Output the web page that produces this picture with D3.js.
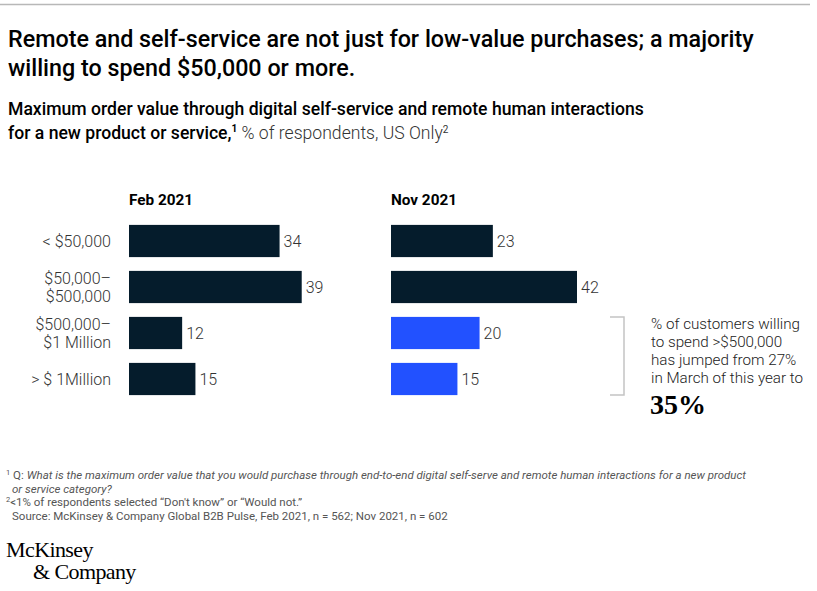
<!DOCTYPE html>
<html>
<head>
<meta charset="utf-8">
<script src="https://cdnjs.cloudflare.com/ajax/libs/d3/7.8.5/d3.min.js"></script>
<style>
  body { margin: 0; background: #fff; }
</style>
</head>
<body>
<svg id="chart"></svg>
<script>
// chart data
var categories = ["< $50,000", "$50,000–\n$500,000", "$500,000–\n$1 Million", "> $ 1Million"];
var periods = ["Feb 2021", "Nov 2021"];
var febValues = [34, 39, 12, 15];
var novValues = [23, 42, 20, 15];
var highlight = [false, false, true, true]; // only for Nov

var width = 817, height = 591;
var sans = "Roboto, 'Liberation Sans', sans-serif";
var serif = "'Liberation Serif', 'DejaVu Serif', serif";
var svg = d3.select("#chart").attr("width", width).attr("height", height)
            .attr("font-family", sans);

//top rule
svg.append("line")
   .attr("x1", 0).attr("x2", 810).attr("y1", 4.5).attr("y2", 4.5)
   .attr("stroke", "#b8b8b8").attr("stroke-width", 1.5);

//title
var title = ["Remote and self-service are not just for low-value purchases; a majority",
             "willing to spend $50,000 or more."];
svg.selectAll(".title").data(title).enter().append("text")
   .attr("x", 8).attr("y", (d, i) => 47 + i * 29)
   .attr("font-size", 23.3).attr("font-weight", 500).attr("fill", "#000")
   .text(d => d);

//subtitle
svg.append("text").attr("x", 8).attr("y", 115)
   .attr("font-size", 17.6).attr("font-weight", 500).attr("fill", "#000")
   .text("Maximum order value through digital self-service and remote human interactions");
var sub2 = svg.append("text").attr("x", 8).attr("y", 139).attr("font-size", 17.6).attr("fill", "#000");
sub2.append("tspan").attr("font-weight", 500).text("for a new product or service,");
sub2.append("tspan").attr("font-size", 10).attr("dy", -7).attr("font-weight", 700).text("1");
sub2.append("tspan").attr("dy", 7).attr("fill", "#333").attr("font-weight", 300).text(" % of respondents, US Only");
sub2.append("tspan").attr("font-size", 10).attr("dy", -6).attr("fill", "#333").text("2");

//scales
var x = d3.scaleLinear().domain([0, 42]).range([0, 186]);
var y = d3.scaleBand().domain(d3.range(categories.length)).range([218, 402]).paddingInner(0.3).paddingOuter(0.15);

var panels = [
  {name: periods[0], x0: 129, values: febValues},
  {name: periods[1], x0: 391, values: novValues}
];

//category labels
categories.forEach(function(c, i) {
  var lines = c.split("\n");
  var cy = y(i) + y.bandwidth() / 2;
  var t = svg.append("text").attr("text-anchor", "end").attr("font-size", 16)
             .attr("fill", "#333").attr("font-weight", 300);
  lines.forEach(function(l, j) {
    t.append("tspan").attr("x", 111)
     .attr("y", cy + 6 + (j - (lines.length - 1) / 2) * 18)
     .text(l);
  });
});

panels.forEach(function(p, pi) {
  var g = svg.append("g").attr("transform", "translate(" + p.x0 + ",0)");
  g.append("text").attr("x", 0).attr("y", 205)
   .attr("font-size", 15.3).attr("font-weight", 700).attr("fill", "#000")
   .text(p.name);
  g.selectAll(".bar").data(p.values).enter().append("rect")
   .attr("x", 0).attr("y", (d, i) => y(i))
   .attr("width", d => x(d)).attr("height", y.bandwidth())
   .attr("fill", (d, i) => (pi === 1 && highlight[i]) ? "#2251ff" : "#051c2c");
  g.selectAll(".val").data(p.values).enter().append("text")
   .attr("x", d => x(d) + 4).attr("y", (d, i) => y(i) + y.bandwidth() / 2 + 6)
   .attr("font-size", 16).attr("fill", "#333").attr("font-weight", 300)
   .text(d => d);
});

//bracket
var by0 = y(2), by1 = y(3) + y.bandwidth();
svg.append("path")
   .attr("d", "M610," + by0 + "H624V" + by1 + "H610")
   .attr("fill", "none").attr("stroke", "#c4c4c4").attr("stroke-width", 1.5);

//annotation
var note = ["% of customers willing", "to spend >$500,000", "has jumped from 27%", "in March of this year to"];
svg.selectAll(".note").data(note).enter().append("text")
   .attr("x", 651).attr("y", (d, i) => 329 + i * 18)
   .attr("font-size", 15.2).attr("fill", "#222").attr("font-weight", 300)
   .text(d => d);
svg.append("text").attr("x", 650).attr("y", 414)
   .attr("font-size", 28).attr("fill", "#000").attr("font-weight", 700)
   .attr("font-family", serif)
   .text("35%");

//footnotes
var foot = svg.append("g").attr("font-size", 11.5).attr("fill", "#555");
var f1 = foot.append("text").attr("x", 6).attr("y", 479);
f1.append("tspan").attr("font-size", 7.5).attr("dy", -4).text("1");
f1.append("tspan").attr("dy", 4).text(" Q: ");
f1.append("tspan").attr("font-style", "italic")
  .text("What is the maximum order value that you would purchase through end-to-end digital self-serve and remote human interactions for a new product");
foot.append("text").attr("x", 12).attr("y", 493).attr("font-style", "italic").text("or service category?");
var f2 = foot.append("text").attr("x", 6).attr("y", 506);
f2.append("tspan").attr("font-size", 7.5).attr("dy", -4).text("2");
f2.append("tspan").attr("dy", 4).text("<1% of respondents selected \u201cDon't know\u201d or \u201cWould not.\u201d");
foot.append("text").attr("x", 12).attr("y", 520)
   .text("Source: McKinsey & Company Global B2B Pulse, Feb 2021, n = 562; Nov 2021, n = 602");

//logo
var logo = svg.append("g").attr("fill", "#000").attr("font-size", 22)
              .attr("font-family", serif).attr("letter-spacing", -0.6);
logo.append("text").attr("x", 6).attr("y", 557).text("McKinsey");
logo.append("text").attr("x", 33).attr("y", 579).text("& Company");
</script>
</body>
</html>
